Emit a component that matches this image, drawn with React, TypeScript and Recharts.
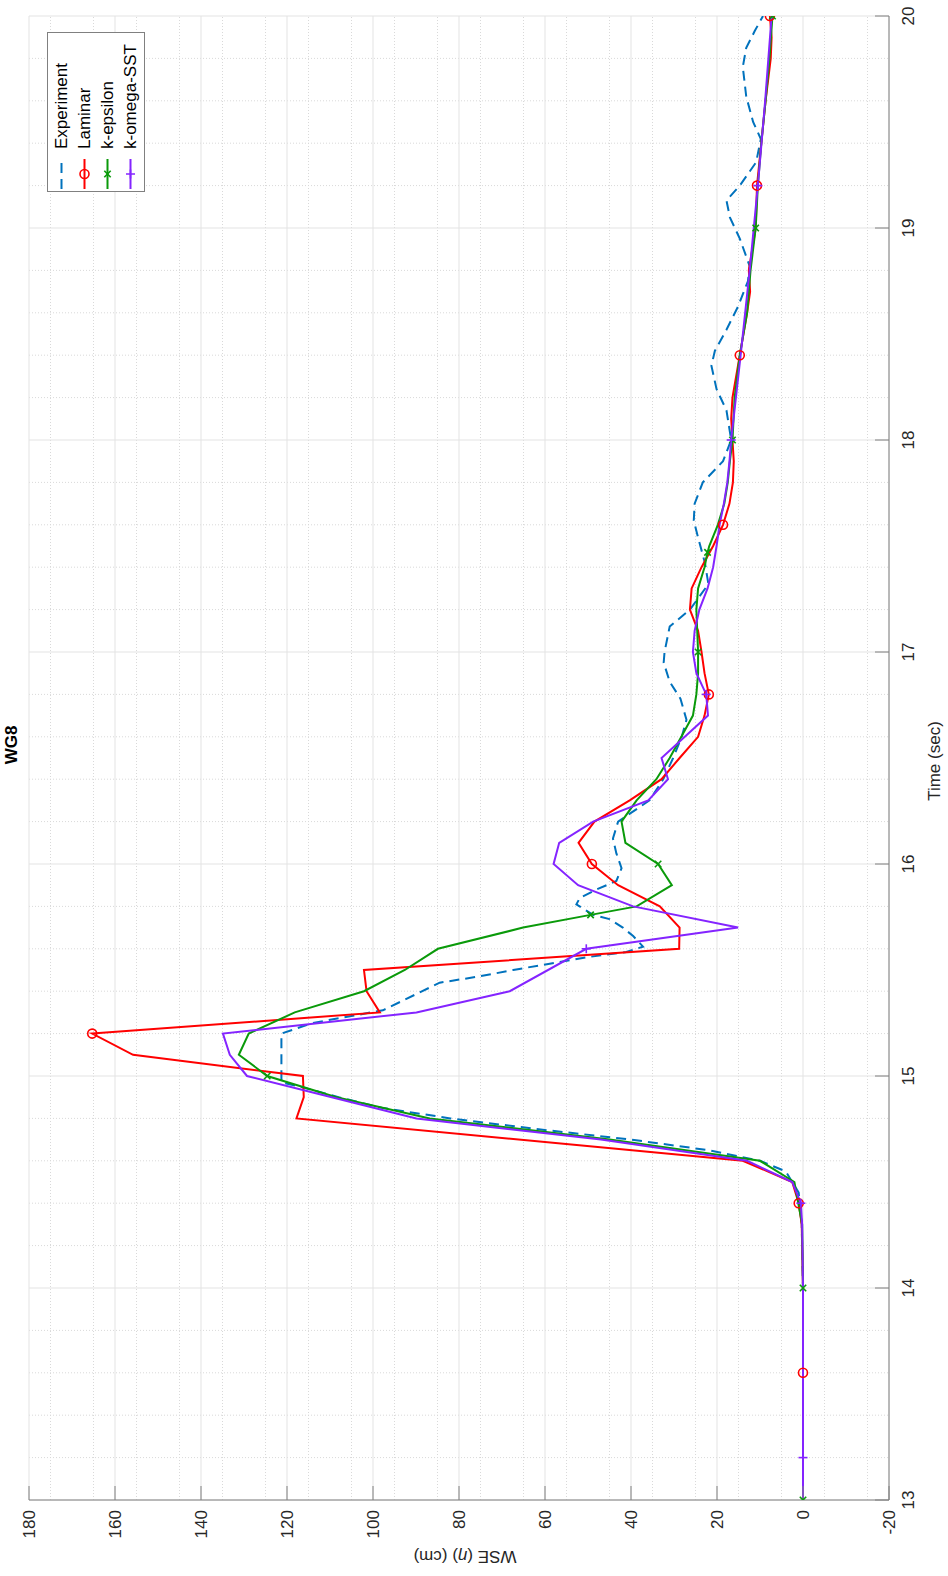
import React from "react";
import { LineChart, Line, XAxis, YAxis, CartesianGrid, Legend } from "recharts";

// axis ticks / grid
const timeTicks = [13, 14, 15, 16, 17, 18, 19, 20];
const timeMinor = [
  13.2, 13.4, 13.6, 13.8, 14.2, 14.4, 14.6, 14.8, 15.2, 15.4, 15.6, 15.8, 16.2, 16.4, 16.6, 16.8,
  17.2, 17.4, 17.6, 17.8, 18.2, 18.4, 18.6, 18.8, 19.2, 19.4, 19.6, 19.8,
];
const wseTicks = [-20, 0, 20, 40, 60, 80, 100, 120, 140, 160, 180];
const wseMinor = [
  -15, -10, -5, 5, 10, 15, 25, 30, 35, 45, 50, 55, 65, 70, 75, 85, 90, 95, 105, 110, 115, 125, 130,
  135, 145, 150, 155, 165, 170, 175,
];

// Experiment
const expTime = [
  13.0, 13.5, 14.0, 14.3, 14.45, 14.55, 14.6, 14.65, 14.7, 14.75, 14.8, 14.85, 14.9, 14.95, 14.97,
  15.2, 15.25, 15.31, 15.44, 15.47, 15.5, 15.53, 15.56, 15.585, 15.61, 15.66, 15.7, 15.74, 15.76,
  15.81, 15.84, 15.88, 15.92, 15.98, 16.05, 16.12, 16.2, 16.3, 16.4, 16.5, 16.6, 16.68, 16.78,
  16.86, 16.95, 17.0, 17.12, 17.2, 17.32, 17.42, 17.54, 17.62, 17.7, 17.8, 17.9, 18.0, 18.14,
  18.24, 18.35, 18.42, 18.52, 18.63, 18.75, 18.82, 18.95, 19.05, 19.13, 19.2, 19.31, 19.42, 19.5,
  19.62, 19.76, 19.85, 19.93, 20.0,
];
const expWse = [
  0, 0, 0, 0.3, 1, 4, 10, 22, 40, 62, 82, 98, 108, 117, 121.3,
  121.3, 114, 97.7, 84.5, 75.2, 67.4, 58.9, 50.4, 41.1, 37.2, 39.5, 41.9, 45, 48.8,
  52.7, 51.9, 48, 43.4, 42.2, 43.4, 44.2, 43, 35.7, 32.5, 30.2, 28.2, 27.1, 28.5,
  31.0, 32.4, 32.2, 31.0, 26.3, 22.0, 22.8, 24.4, 25.4, 25.2, 23.3, 18.6, 16.7, 17.8,
  20.1, 21.3, 20.5, 17.8, 15.1, 12.8, 12.4, 14.7, 17.0, 17.8, 14.7, 10.9, 9.8, 11.6,
  13.2, 14.0, 13.2, 11.2, 9.3,
];

// Laminar
const lamTime = [
  13.0, 13.6, 14.0, 14.3, 14.4, 14.5, 14.6, 14.8, 14.9, 15.0, 15.1, 15.2, 15.3, 15.4, 15.5, 15.6,
  15.7, 15.8, 15.9, 16.0, 16.1, 16.2, 16.3, 16.4, 16.5, 16.6, 16.7, 16.8, 16.9, 17.0, 17.1, 17.2,
  17.3, 17.4, 17.5, 17.6, 17.7, 17.8, 17.9, 18.0, 18.1, 18.2, 18.4, 18.6, 18.7, 18.8, 19.0, 19.2,
  19.4, 19.6, 19.8, 19.9, 20.0,
];
const lamWse = [
  0, 0, 0, 0.3, 1.0, 2.5, 14, 117.8, 116.1, 116.3, 155.8, 165.3, 98.4, 101.5, 102.1, 28.8,
  28.7, 33.3, 43.0, 49.1, 52.2, 48.5, 40.3, 32.9, 28.7, 24.4, 22.9, 21.9, 22.9, 23.6, 24.4, 26.3,
  25.9, 23.6, 20.9, 18.6, 17.1, 16.3, 16.1, 16.4, 16.7, 16.4, 14.7, 13.0, 12.3, 12.6, 11.0, 10.7,
  9.7, 8.7, 7.5, 7.3, 7.7,
];
const lamMarks = [13.6, 14.4, 15.2, 16.0, 16.8, 17.6, 18.4, 19.2, 20.0];

// k-epsilon
const keTime = [
  13.0, 14.0, 14.3, 14.5, 14.6, 14.7, 14.8, 14.9, 15.0, 15.1, 15.2, 15.3, 15.4, 15.5, 15.6, 15.7,
  15.76, 15.8, 15.9, 16.0, 16.1, 16.2, 16.3, 16.4, 16.5, 16.6, 16.7, 16.8, 16.9, 17.0, 17.1, 17.2,
  17.3, 17.4, 17.47, 17.5, 17.6, 17.7, 17.8, 17.9, 18.0, 18.2, 18.4, 18.6, 18.8, 19.0, 19.2, 19.4,
  19.6, 19.8, 20.0,
];
const keWse = [
  0, 0, 0.2, 2, 10, 45, 86.8, 108.5, 124.6, 131.2, 128.9, 118.2, 102.1, 92.6, 84.9, 65.1,
  49.4, 38.7, 30.5, 33.7, 41.3, 42.2, 38.7, 34.1, 31.0, 28.3, 25.6, 24.8, 24.4, 24.4, 24.6, 24.8,
  24.4, 22.9, 22.2, 21.8, 19.8, 18.3, 17.5, 17.0, 16.4, 15.9, 14.7, 13.0, 12.2, 11.0, 10.5, 9.7,
  8.7, 7.8, 7.1,
];
const keMarks = [13.0, 14.0, 15.0, 15.76, 16.0, 17.0, 17.47, 18.0, 19.0, 20.0];

// k-omega-SST
const kwTime = [
  13.0, 13.2, 14.0, 14.3, 14.4, 14.5, 14.6, 14.7, 14.8, 14.9, 15.0, 15.1, 15.2, 15.3, 15.4, 15.6,
  15.7, 15.8, 15.9, 16.0, 16.1, 16.2, 16.3, 16.4, 16.5, 16.7, 16.8, 16.9, 17.0, 17.1, 17.2, 17.3,
  17.4, 17.5, 17.6, 17.7, 17.8, 17.9, 18.0, 18.4, 18.8, 19.2, 19.6, 20.0,
];
const kwWse = [
  0, 0, 0, 0.2, 0.5, 2.5, 13, 47, 89.9, 109.6, 129.3, 133.3, 134.9, 89.9, 68.2, 50.4,
  15.1, 39.5, 52.3, 58.0, 56.7, 48.8, 36.0, 31.4, 32.9, 22.1, 22.5, 24.8, 25.6, 25.2, 24.1, 22.2,
  20.9, 20.1, 19.4, 18.4, 17.6, 17.1, 16.7, 14.5, 12.4, 10.5, 8.8, 7.3,
];
const kwMarks = [13.2, 14.4, 15.6, 16.8, 18.0, 19.2];

const toPoints = (ts: number[], vs: number[]) => ts.map((t, i) => ({ t, v: vs[i] }));

const FONT = "'Liberation Sans', Arial, sans-serif";
const AXIS = "#808080";
const TEXT = "#262626";

const series = [
  { name: "Experiment", color: "#0072BD", dash: "10 6", marker: "none", data: toPoints(expTime, expWse), marks: [] as number[] },
  { name: "Laminar", color: "#FF0000", dash: undefined, marker: "o", data: toPoints(lamTime, lamWse), marks: lamMarks },
  { name: "k-epsilon", color: "#0A9A0A", dash: undefined, marker: "x", data: toPoints(keTime, keWse), marks: keMarks },
  { name: "k-omega-SST", color: "#8424FF", dash: undefined, marker: "+", data: toPoints(kwTime, kwWse), marks: kwMarks },
];

const Marker = ({ kind, x, y, color }: any) => {
  if (kind === "o")
    return <circle cx={x} cy={y} r={4.5} fill="none" stroke={color} strokeWidth={1.6} />;
  if (kind === "x")
    return (
      <g stroke={color} strokeWidth={1.6}>
        <line x1={x - 3.2} y1={y - 3.2} x2={x + 3.2} y2={y + 3.2} />
        <line x1={x - 3.2} y1={y + 3.2} x2={x + 3.2} y2={y - 3.2} />
      </g>
    );
  if (kind === "+")
    return (
      <g stroke={color} strokeWidth={1.6}>
        <line x1={x - 4.5} y1={y} x2={x + 4.5} y2={y} />
        <line x1={x} y1={y - 4.5} x2={x} y2={y + 4.5} />
      </g>
    );
  return null;
};

const makeDot = (kind: string, color: string, marks: number[]) => (props: any) => {
  const { cx, cy, payload, index } = props;
  if (!marks.includes(payload.t)) return <g key={index} />;
  return (
    <g key={index}>
      <Marker kind={kind} x={cx} y={cy} color={color} />
    </g>
  );
};

const LegendBox = () => (
  <div
    style={{
      width: 160,
      height: 98,
      boxSizing: "border-box",
      border: `1px solid ${AXIS}`,
      background: "#fff",
      position: "relative",
      fontFamily: FONT,
      fontSize: 17,
      color: "#000",
    }}
  >
    {series.map((s, i) => (
      <div key={s.name} style={{ position: "absolute", left: 0, top: 2 + i * 23, height: 23, width: 160 }}>
        <svg width={36} height={23} style={{ position: "absolute", left: 0, top: 0 }}>
          <line x1={2} y1={11.5} x2={32} y2={11.5} stroke={s.color} strokeWidth={2} strokeDasharray={s.dash} />
          <Marker kind={s.marker} x={17} y={11.5} color={s.color} />
        </svg>
        <span style={{ position: "absolute", left: 42, top: 1, lineHeight: "21px", whiteSpace: "nowrap" }}>{s.name}</span>
      </div>
    ))}
  </div>
);

export default function App() {
  return (
    <div style={{ position: "absolute", left: 0, top: 0, width: 948, height: 1576, overflow: "hidden", background: "#fff" }}>
      <div
        style={{
          position: "absolute",
          left: 0,
          top: 0,
          width: 1576,
          height: 948,
          transformOrigin: "0 0",
          transform: "translateY(1576px) rotate(-90deg)",
          fontFamily: FONT,
        }}
      >
        <LineChart width={1576} height={948} margin={{ top: 29, right: 16, bottom: 0, left: 0 }}>
          <CartesianGrid stroke="#d9d9d9" strokeDasharray="1 2" verticalValues={timeMinor} horizontalValues={wseMinor} />
          <CartesianGrid stroke="#e3e3e3" verticalValues={timeTicks} horizontalValues={wseTicks} />
          <XAxis
            type="number"
            dataKey="t"
            domain={[13, 20]}
            ticks={timeTicks}
            allowDataOverflow
            height={59}
            tickSize={-14}
            tickMargin={27}
            stroke={AXIS}
            tick={{ fill: TEXT, fontSize: 17, fontFamily: FONT }}
          />
          <XAxis
            xAxisId="top"
            orientation="top"
            type="number"
            dataKey="t"
            domain={[13, 20]}
            ticks={timeTicks}
            allowDataOverflow
            height={0}
            tickSize={-14}
            tick={false}
            stroke={AXIS}
          />
          <YAxis
            type="number"
            domain={[-20, 180]}
            ticks={wseTicks}
            allowDataOverflow
            width={76}
            tickSize={-14}
            tickMargin={24}
            stroke={AXIS}
            tick={{ fill: TEXT, fontSize: 17, fontFamily: FONT }}
          />
          <YAxis
            yAxisId="right"
            orientation="right"
            type="number"
            domain={[-20, 180]}
            ticks={wseTicks}
            allowDataOverflow
            width={0}
            tickSize={-14}
            tick={false}
            stroke={AXIS}
          />
          {series.map((s) => (
            <Line
              key={s.name}
              data={s.data}
              dataKey="v"
              name={s.name}
              type="linear"
              stroke={s.color}
              strokeWidth={2}
              strokeDasharray={s.dash}
              dot={makeDot(s.marker, s.color, s.marks)}
              activeDot={false}
              isAnimationActive={false}
            />
          ))}
          <Legend
            layout="vertical"
            align="center"
            verticalAlign="middle"
            content={() => <LegendBox />}
            wrapperStyle={{ top: 47, left: 1384, width: 160, height: 98 }}
          />
        </LineChart>
        <div
          style={{
            position: "absolute",
            left: 831,
            top: 12,
            transform: "translate(-50%, -50%)",
            fontWeight: "bold",
            fontSize: 17,
            color: "#000",
            whiteSpace: "nowrap",
          }}
        >
          WG8
        </div>
        <div
          style={{
            position: "absolute",
            left: 815,
            top: 935,
            transform: "translate(-50%, -50%)",
            fontSize: 17,
            color: TEXT,
            whiteSpace: "nowrap",
          }}
        >
          Time (sec)
        </div>
        <div
          style={{
            position: "absolute",
            left: 20,
            top: 465,
            transform: "translate(-50%, -50%) rotate(-90deg)",
            fontSize: 17,
            color: TEXT,
            whiteSpace: "nowrap",
          }}
        >
          WSE (<i>η</i>) (cm)
        </div>
      </div>
    </div>
  );
}
